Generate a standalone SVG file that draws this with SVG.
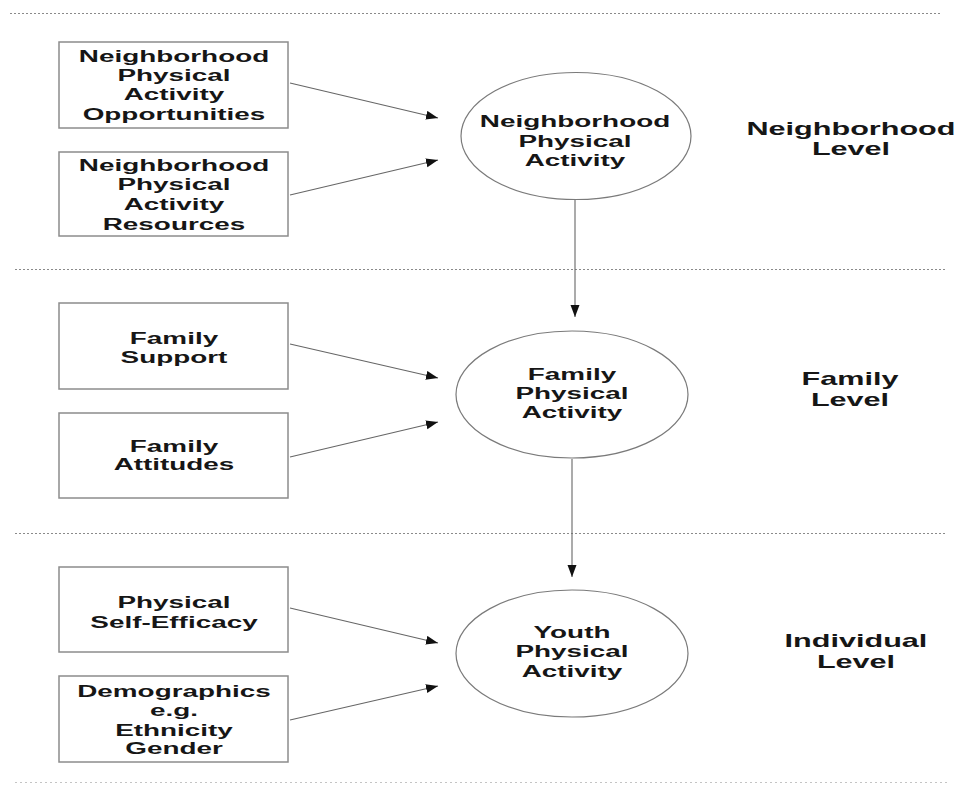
<svg xmlns="http://www.w3.org/2000/svg" width="963" height="790" viewBox="0 0 963 790">
<style>
.bg{fill:#fff}
.sep{stroke:#8a8a8a;stroke-width:1;stroke-dasharray:2 2;fill:none}
.sep2{stroke:#c4c4c4;stroke-width:1;stroke-dasharray:2 3;fill:none}
.box{fill:#fff;stroke:#8c8c8c;stroke-width:1.5}
.ell{fill:#fff;stroke:#7a7a7a;stroke-width:1.2}
.t{font-family:"Liberation Sans",Arial,sans-serif;font-weight:bold;font-size:17px;fill:#161616;text-anchor:middle}
.lv{font-family:"Liberation Sans",Arial,sans-serif;font-weight:bold;font-size:18px;fill:#161616;text-anchor:middle}
.edge{stroke:#666;stroke-width:1.1;fill:none;marker-end:url(#ah)}
</style>
<defs>
<marker id="ah" markerUnits="userSpaceOnUse" markerWidth="13" markerHeight="10" refX="12" refY="4.5" orient="auto">
<path d="M0,0 L12,4.5 L0,9 z" fill="#111"/>
</marker>
</defs>
<rect class="bg" x="0" y="0" width="963" height="790"/>
<g id="separators">
<line class="sep" x1="10" y1="13.5" x2="940" y2="13.5"/>
<line class="sep" x1="15" y1="269.5" x2="947" y2="269.5"/>
<line class="sep" x1="15" y1="533.5" x2="947" y2="533.5"/>
<line class="sep2" x1="15" y1="782.5" x2="947" y2="782.5"/>
</g>
<g id="connectors">
<line class="edge" x1="290" y1="83" x2="438" y2="118"/>
<line class="edge" x1="290" y1="195" x2="438" y2="160"/>
<line class="edge" x1="575" y1="200" x2="575" y2="317"/>
<line class="edge" x1="290" y1="344" x2="438" y2="378"/>
<line class="edge" x1="290" y1="457" x2="438" y2="422"/>
<line class="edge" x1="572" y1="459" x2="572" y2="577"/>
<line class="edge" x1="290" y1="608" x2="438" y2="643"/>
<line class="edge" x1="290" y1="720" x2="438" y2="686"/>
</g>
<g id="n-opportunities">
<rect class="box" x="59" y="42" width="229" height="86"/>
<g transform="translate(174,0) scale(1.64,1)">
<text class="t" x="0" y="62">Neighborhood</text>
<text class="t" x="0" y="81">Physical</text>
<text class="t" x="0" y="100">Activity</text>
<text class="t" x="0" y="120">Opportunities</text>
</g>
</g>
<g id="n-resources">
<rect class="box" x="59" y="152" width="229" height="84"/>
<g transform="translate(174,0) scale(1.64,1)">
<text class="t" x="0" y="171">Neighborhood</text>
<text class="t" x="0" y="190">Physical</text>
<text class="t" x="0" y="210">Activity</text>
<text class="t" x="0" y="230">Resources</text>
</g>
</g>
<g id="neighborhood-pa">
<ellipse class="ell" cx="576" cy="136" rx="115" ry="63.5"/>
<g transform="translate(575,0) scale(1.64,1)">
<text class="t" x="0" y="127">Neighborhood</text>
<text class="t" x="0" y="147">Physical</text>
<text class="t" x="0" y="166">Activity</text>
</g>
</g>
<g id="neighborhood-level">
<g transform="translate(851,0) scale(1.7,1)">
<text class="lv" x="0" y="135">Neighborhood</text>
<text class="lv" x="0" y="155">Level</text>
</g>
</g>
<g id="f-support">
<rect class="box" x="59" y="303" width="229" height="86"/>
<g transform="translate(174,0) scale(1.64,1)">
<text class="t" x="0" y="344">Family</text>
<text class="t" x="0" y="363">Support</text>
</g>
</g>
<g id="f-attitudes">
<rect class="box" x="59" y="413" width="229" height="85"/>
<g transform="translate(174,0) scale(1.64,1)">
<text class="t" x="0" y="452">Family</text>
<text class="t" x="0" y="470">Attitudes</text>
</g>
</g>
<g id="family-pa">
<ellipse class="ell" cx="572" cy="394.5" rx="116" ry="63.5"/>
<g transform="translate(572,0) scale(1.64,1)">
<text class="t" x="0" y="380">Family</text>
<text class="t" x="0" y="399">Physical</text>
<text class="t" x="0" y="418">Activity</text>
</g>
</g>
<g id="family-level">
<g transform="translate(850,0) scale(1.7,1)">
<text class="lv" x="0" y="385">Family</text>
<text class="lv" x="0" y="406">Level</text>
</g>
</g>
<g id="i-selfefficacy">
<rect class="box" x="59" y="567" width="229" height="85"/>
<g transform="translate(174,0) scale(1.64,1)">
<text class="t" x="0" y="608">Physical</text>
<text class="t" x="0" y="628">Self-Efficacy</text>
</g>
</g>
<g id="i-demographics">
<rect class="box" x="59" y="676" width="229" height="86"/>
<g transform="translate(174,0) scale(1.64,1)">
<text class="t" x="0" y="697">Demographics</text>
<text class="t" x="0" y="716">e.g.</text>
<text class="t" x="0" y="736">Ethnicity</text>
<text class="t" x="0" y="754">Gender</text>
</g>
</g>
<g id="youth-pa">
<ellipse class="ell" cx="572" cy="653.5" rx="116" ry="63.5"/>
<g transform="translate(572,0) scale(1.64,1)">
<text class="t" x="0" y="638">Youth</text>
<text class="t" x="0" y="657">Physical</text>
<text class="t" x="0" y="677">Activity</text>
</g>
</g>
<g id="individual-level">
<g transform="translate(856,0) scale(1.7,1)">
<text class="lv" x="0" y="647">Individual</text>
<text class="lv" x="0" y="668">Level</text>
</g>
</g>
</svg>
